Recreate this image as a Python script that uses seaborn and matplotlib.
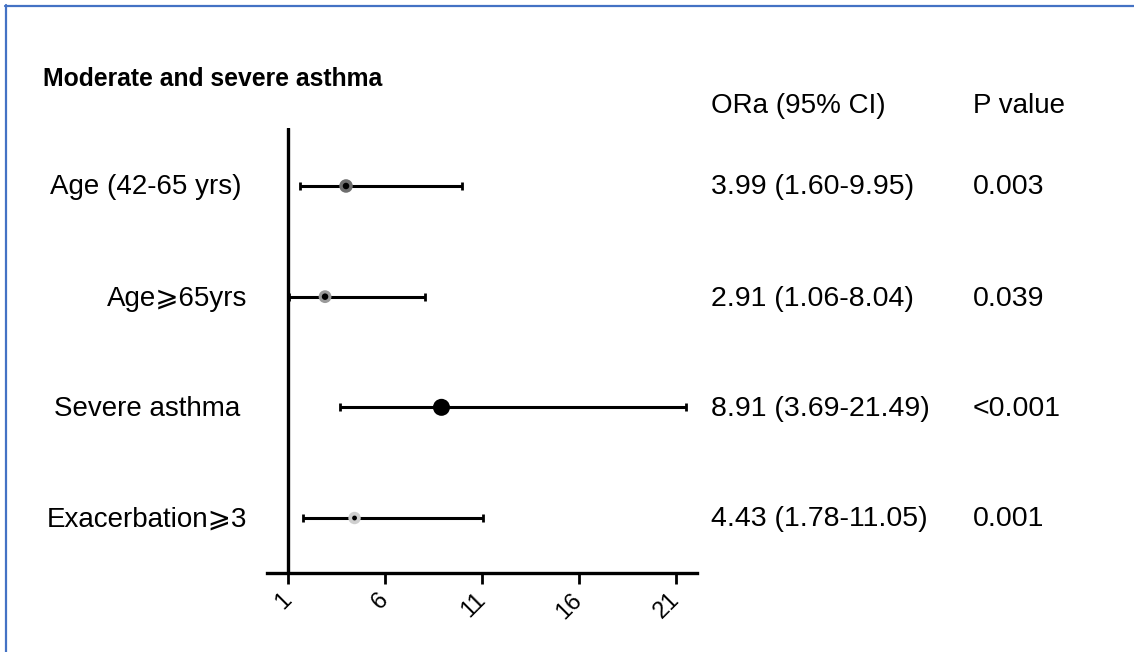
import matplotlib
matplotlib.use("Agg")
import matplotlib.pyplot as plt
import seaborn as sns
import pandas as pd
from matplotlib.lines import Line2D

# ---- data ----
labels = ["Age (42-65 yrs)", "Age\u2a7e65yrs", "Severe asthma", "Exacerbation\u2a7e3"]
or_vals = [3.99, 2.91, 8.91, 4.43]
ci_low = [1.60, 1.06, 3.69, 1.78]
ci_high = [9.95, 8.04, 21.49, 11.05]
ci_text = ["3.99 (1.60-9.95)", "2.91 (1.06-8.04)", "8.91 (3.69-21.49)", "4.43 (1.78-11.05)"]
p_text = ["0.003", "0.039", "<0.001", "0.001"]
xticks = [1, 6, 11, 16, 21]
title = "Moderate and severe asthma"
col_headers = ["ORa (95% CI)", "P value"]

# ---- style ----
ring_colors = ["#6e6e6e", "#9a9a9a", "#000000", "#cfcfcf"]
ring_sizes = [95, 85, 150, 80]
dot_sizes = [22, 22, 0, 12]
label_x = [146, 177, 147, 146.5]  # centre x (pixels) for labels

sns.set_theme(style="white")
plt.rcParams["font.family"] = ["Liberation Sans", "DejaVu Sans"]
plt.rcParams["text.color"] = "black"
plt.rcParams["xtick.color"] = "black"
plt.rcParams["axes.labelcolor"] = "black"

W, H = 1134, 652
fig = plt.figure(figsize=(W / 100, H / 100), dpi=100)
fig.patch.set_facecolor("white")

# axes box in pixels
left, right, top, bottom = 267, 697, 128, 573
ax = fig.add_axes([left / W, 1 - bottom / H, (right - left) / W, (bottom - top) / H])

df = pd.DataFrame({"label": labels, "or": or_vals, "lo": ci_low, "hi": ci_high,
                   "y": list(range(len(labels)))})

# CI lines
ax.errorbar(df["or"], df["y"],
            xerr=[df["or"] - df["lo"], df["hi"] - df["or"]],
            fmt="none", ecolor="black", elinewidth=2.2, capsize=3.2, capthick=2.0, zorder=2)

# markers
sns.scatterplot(data=df, x="or", y="y", hue="label", palette=ring_colors,
                size="label", sizes=dict(zip(labels, ring_sizes)),
                edgecolor="none", legend=False, ax=ax, zorder=3)
inner = df[[s > 0 for s in dot_sizes]]
sns.scatterplot(data=inner, x="or", y="y", color="black",
                size="label", sizes={l: s for l, s in zip(labels, dot_sizes) if s > 0},
                edgecolor="none", legend=False, ax=ax, zorder=4)

ax.set_xlim(-0.082, 22.08)
ax.set_ylim(3.497, -0.524)
ax.axvline(1, color="black", lw=2.4, zorder=1)

for s in ["top", "right", "left"]:
    ax.spines[s].set_visible(False)
ax.spines["bottom"].set_linewidth(2.4)
ax.spines["bottom"].set_color("black")

ax.set_yticks([])
ax.set_xticks(xticks)
ax.set_xticklabels([str(t) for t in xticks], fontsize=17)
ax.tick_params(axis="x", direction="out", length=8, width=2.0, color="black", pad=9, bottom=True)
plt.setp(ax.get_xticklabels(), rotation=45, ha="right", va="center", rotation_mode="anchor")
ax.set_xlabel("")
ax.set_ylabel("")

# text in pixel coordinates
def fx(px):
    return px / W

def fy(py):
    return 1 - py / H

row_y = [187.5, 298.5, 409.5, 519.5]
fig.text(fx(43), fy(79), title, fontsize=17.8, fontweight="bold", ha="left", va="center")
fig.text(fx(711), fy(106), col_headers[0], fontsize=20, ha="left", va="center")
fig.text(fx(973), fy(106), col_headers[1], fontsize=20, ha="left", va="center")
for i in range(len(labels)):
    fig.text(fx(label_x[i]), fy(row_y[i]), labels[i], fontsize=20, ha="center", va="center")
    fig.text(fx(711), fy(row_y[i]), ci_text[i], fontsize=20.5, ha="left", va="center")
    fig.text(fx(973), fy(row_y[i]), p_text[i], fontsize=20.5, ha="left", va="center")

# blue frame (top and left)
blue = "#4472c4"
fig.add_artist(Line2D([fx(5), 1.0], [fy(5.5), fy(5.5)], color=blue, lw=1.6))
fig.add_artist(Line2D([fx(5.5), fx(5.5)], [fy(5), 0.0], color=blue, lw=1.6))

fig.savefig("out.png", dpi=100, facecolor="white")
